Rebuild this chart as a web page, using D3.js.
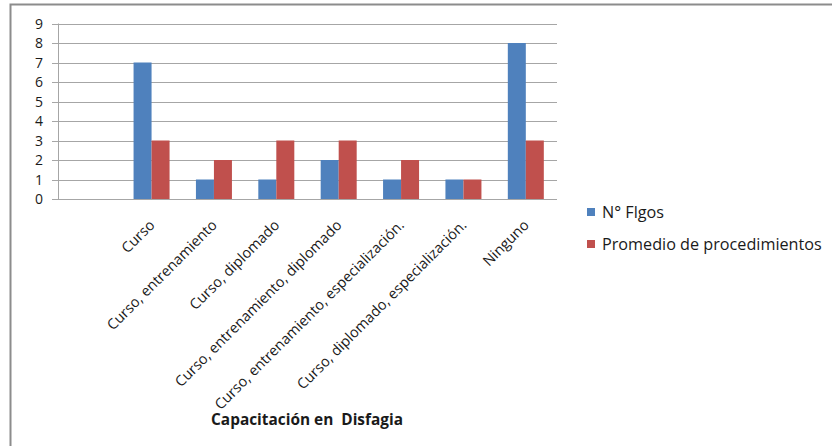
<!DOCTYPE html>
<html>
<head>
<meta charset="utf-8">
<script src="https://cdn.jsdelivr.net/npm/d3@7"></script>
<style>
  html, body { margin: 0; padding: 0; background: #fff; }
  svg { display: block; }
  text { font-family: "Open Sans", "Noto Sans", sans-serif; fill: #1a1a1a; }
</style>
</head>
<body>
<svg id="chart" width="832" height="446"></svg>
<script>
// Training categories (the first slot is an empty category)
const categories = ["", "Curso", "Curso, entrenamiento", "Curso, diplomado",
  "Curso, entrenamiento, diplomado", "Curso, entrenamiento, especialización.",
  "Curso, diplomado, especialización.", "Ninguno"];
const seriesNames = ["N° Flgos", "Promedio de procedimientos"];
const flgos = [null, 7, 1, 1, 2, 1, 1, 8];
const promedio = [null, 3, 2, 3, 3, 2, 1, 3];
const yTicks = [0, 1, 2, 3, 4, 5, 6, 7, 8, 9];
const colors = ["#4F81BD", "#C0504D"];
const axisTitle = "Capacitación en  Disfagia";

const svg = d3.select("#chart");

// outer frame
svg.append("rect")
  .attr("x", 10.5).attr("y", 4.5).attr("width", 840).attr("height", 460)
  .attr("fill", "none").attr("stroke", "#8c8c8c").attr("stroke-width", 2);

const plot = { left: 58, right: 557, top: 23.5, bottom: 199 };

const x = d3.scaleBand().domain(categories.map((d, i) => i))
  .range([plot.left, plot.right]).paddingInner(0).paddingOuter(0);
const y = d3.scaleLinear().domain([0, 9]).range([plot.bottom, plot.top]);

// gridlines + tick marks
svg.append("g").selectAll("line").data(yTicks).join("line")
  .attr("x1", plot.left - 6).attr("x2", plot.right)
  .attr("y1", d => Math.round(y(d)) + 0.5).attr("y2", d => Math.round(y(d)) + 0.5)
  .attr("stroke", "#a6a6a6").attr("stroke-width", 1);

// y axis line
svg.append("line")
  .attr("x1", plot.left + 0.5).attr("x2", plot.left + 0.5)
  .attr("y1", plot.top).attr("y2", plot.bottom)
  .attr("stroke", "#a6a6a6");

// y tick labels
svg.append("g").selectAll("text").data(yTicks).join("text")
  .attr("x", 43).attr("y", d => y(d)).attr("dy", "0.36em")
  .attr("text-anchor", "end").attr("font-size", 14)
  .text(d => d);

// bars
const barW = 18;
const series = [flgos, promedio];
series.forEach((vals, s) => {
  svg.append("g").selectAll("rect")
    .data(vals.map((v, i) => ({ v, i })).filter(d => d.v != null))
    .join("rect")
    .attr("x", d => x(d.i) + x.bandwidth() / 2 - barW + s * barW)
    .attr("width", barW)
    .attr("y", d => y(d.v))
    .attr("height", d => y(0) - y(d.v))
    .attr("fill", colors[s]);
});

// category labels, rotated
svg.append("g").selectAll("text").data(categories).join("text")
  .attr("transform", (d, i) => `translate(${x(i) + x.bandwidth() / 2 + 4},${plot.bottom + 27}) rotate(-45)`)
  .attr("text-anchor", "end").attr("font-size", 14.5)
  .text(d => d);

// axis title
svg.append("text")
  .attr("x", 307).attr("y", 425).attr("text-anchor", "middle")
  .attr("font-size", 15.4).attr("font-weight", "bold")
  .style("white-space", "pre")
  .text(axisTitle);

// legend
const legend = svg.append("g");
seriesNames.forEach((name, s) => {
  const ly = 212 + s * 32;
  legend.append("rect").attr("x", 587).attr("y", ly - 4).attr("width", 8).attr("height", 8)
    .attr("fill", colors[s]);
  legend.append("text").attr("x", 602).attr("y", ly).attr("dy", "0.35em")
    .attr("font-size", 16.2).text(name);
});
</script>
</body>
</html>
